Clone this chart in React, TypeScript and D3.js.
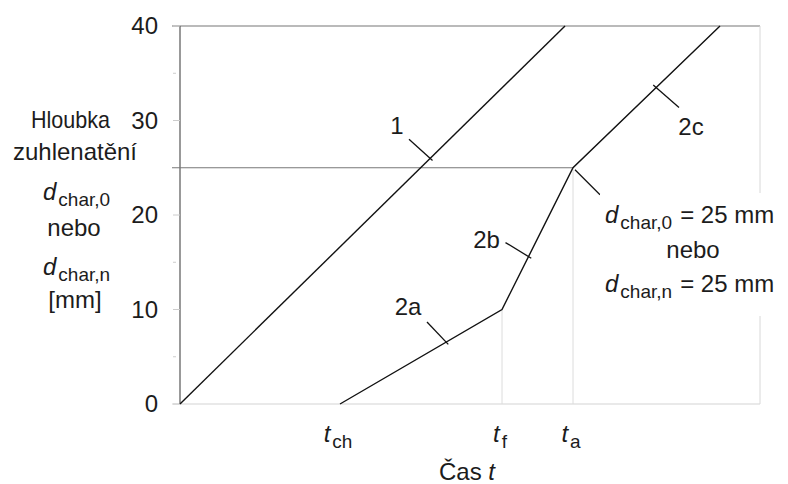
import React from 'react';
import * as d3 from 'd3';

// depth axis (mm) and time marks (arbitrary time units)
const depthTicks = [0, 10, 20, 30, 40];
const depthMinor = [5, 15, 35];
const timeMarks = [
  { sub: 'ch', t: 16 },
  { sub: 'f', t: 32.2 },
  { sub: 'a', t: 39.3 },
];
const tEnd = 58;
const dChar = 25;

// curve 1: without protection, curve 2: protected (2a, 2b, 2c)
const line1 = [
  [0, 0],
  [38.5, 40],
];
const line2 = [
  [16, 0],
  [32.2, 10],
  [39.3, 25],
  [54, 40],
];

// label leaders: point on curve (t, depth), leader direction, label offset
const leaders = [
  { t: 25.0, d: 26.0, dx: -21, dy: -19, label: '1', lx: -33, ly: -24 },
  { t: 47.6, d: 33.5, dx: 23, dy: 20, label: '2c', lx: 35, ly: 48 },
  { t: 34.85, d: 15.6, dx: -23, dy: -14, label: '2b', lx: -42, ly: -9 },
  { t: 26.6, d: 6.56, dx: -19, dy: -20, label: '2a', lx: -38, ly: -27 },
];

const W = 788;
const H = 484;
const margin = { top: 26, right: 28, bottom: 80, left: 180 };
const FONT = "'Liberation Sans', Arial, sans-serif";
const INK = '#1c1c1c';
const FS = 24;
const SUB = 19;

export default function App() {
  const x = d3.scaleLinear().domain([0, tEnd]).range([margin.left, W - margin.right]);
  const y = d3.scaleLinear().domain([0, 40]).range([H - margin.bottom, margin.top]);
  const line = d3.line<number[]>().x(d => x(d[0])).y(d => y(d[1]));

  const x0 = x(0);
  const x1 = x(tEnd);
  const y0 = y(0);
  const kinkF = line2[1];
  const kinkA = line2[2];

  const sub = (s: string) => (
    <tspan fontSize={SUB} dy={6} dx={2}>{s}</tspan>
  );

  return (
    <svg width={W} height={H} style={{ position: 'absolute', left: 0, top: 0, background: '#fff' }}
      fontFamily={FONT} fill={INK}>
      {/* frame */}
      <line x1={x0 - 8} x2={x1} y1={y(40)} y2={y(40)} stroke="#777" strokeWidth={1.2} />
      <line x1={x0 - 8} x2={x1} y1={y0} y2={y0} stroke="#e2e2e2" strokeWidth={1.5} />
      <line x1={x1} x2={x1} y1={y(40)} y2={193} stroke="#d8d8d8" strokeWidth={1} />
      <line x1={x1} x2={x1} y1={316} y2={y0} stroke="#d8d8d8" strokeWidth={1} />
      <line x1={x0} x2={x0} y1={y(40)} y2={y0} stroke="#555" strokeWidth={1.2} />

      {/* reference lines */}
      <line x1={x0 - 8} x2={x(kinkA[0])} y1={y(dChar)} y2={y(dChar)} stroke="#777" strokeWidth={1.2} />
      <line x1={x(kinkF[0])} x2={x(kinkF[0])} y1={y(kinkF[1])} y2={y0} stroke="#dcdcdc" strokeWidth={1} />
      <line x1={x(kinkA[0])} x2={x(kinkA[0])} y1={y(kinkA[1])} y2={y0} stroke="#dcdcdc" strokeWidth={1} />

      {/* y ticks */}
      {depthTicks.map(v => (
        <g key={v}>
          <line x1={x0 - 7} x2={x0} y1={y(v)} y2={y(v)} stroke="#ccc" strokeWidth={1} />
          <text x={158} y={y(v) + 8} textAnchor="end" fontSize={FS}>{v}</text>
        </g>
      ))}
      {depthMinor.map(v => (
        <line key={v} x1={x0 - 7} x2={x0 - 4} y1={y(v)} y2={y(v)} stroke="#ccc" strokeWidth={1} />
      ))}

      {/* x tick labels */}
      {timeMarks.map(m => (
        <text key={m.sub} x={x(m.t) - 2} y={442} fontSize={FS} textAnchor="middle">
          <tspan fontStyle="italic">t</tspan>
          {sub(m.sub)}
        </text>
      ))}
      <text x={467} y={480} textAnchor="middle" fontSize={FS}>
        Čas <tspan fontStyle="italic">t</tspan>
      </text>

      {/* y axis title */}
      <text x={31} y={128} fontSize={FS} textLength={79} lengthAdjust="spacingAndGlyphs">Hloubka</text>
      <text x={75} y={160} textAnchor="middle" fontSize={FS}>zuhlenatění</text>
      <text x={43} y={200} fontSize={FS}>
        <tspan fontStyle="italic">d</tspan>{sub('char,0')}
      </text>
      <text x={74} y={236} textAnchor="middle" fontSize={FS}>nebo</text>
      <text x={43} y={275} fontSize={FS}>
        <tspan fontStyle="italic">d</tspan>{sub('char,n')}
      </text>
      <text x={75} y={308} textAnchor="middle" fontSize={FS}>[mm]</text>

      {/* curves */}
      <path d={line(line1) || ''} fill="none" stroke="#111" strokeWidth={1.4} />
      <path d={line(line2) || ''} fill="none" stroke="#111" strokeWidth={1.4} />

      {/* leaders */}
      {leaders.map(l => {
        const px = x(l.t);
        const py = y(l.d);
        return (
          <g key={l.label}>
            <line x1={px - l.dx * 0.12} y1={py - l.dy * 0.12} x2={px + l.dx} y2={py + l.dy}
              stroke="#111" strokeWidth={1.3} />
            <text x={px + l.lx} y={py + l.ly} textAnchor="middle" fontSize={FS}>{l.label}</text>
          </g>
        );
      })}

      {/* annotation at kink */}
      <line x1={x(kinkA[0]) + 2} y1={y(kinkA[1]) + 2} x2={x(kinkA[0]) + 27} y2={y(kinkA[1]) + 27}
        stroke="#111" strokeWidth={1.3} />
      <rect x={600} y={194} width={188} height={120} fill="#fff" />
      <text x={605} y={223} fontSize={FS}>
        <tspan fontStyle="italic">d</tspan>{sub('char,0')}
        <tspan dy={-6} dx={8}>= 25 mm</tspan>
      </text>
      <text x={693} y={258} textAnchor="middle" fontSize={FS}>nebo</text>
      <text x={605} y={292} fontSize={FS}>
        <tspan fontStyle="italic">d</tspan>{sub('char,n')}
        <tspan dy={-6} dx={8}>= 25 mm</tspan>
      </text>
    </svg>
  );
}
